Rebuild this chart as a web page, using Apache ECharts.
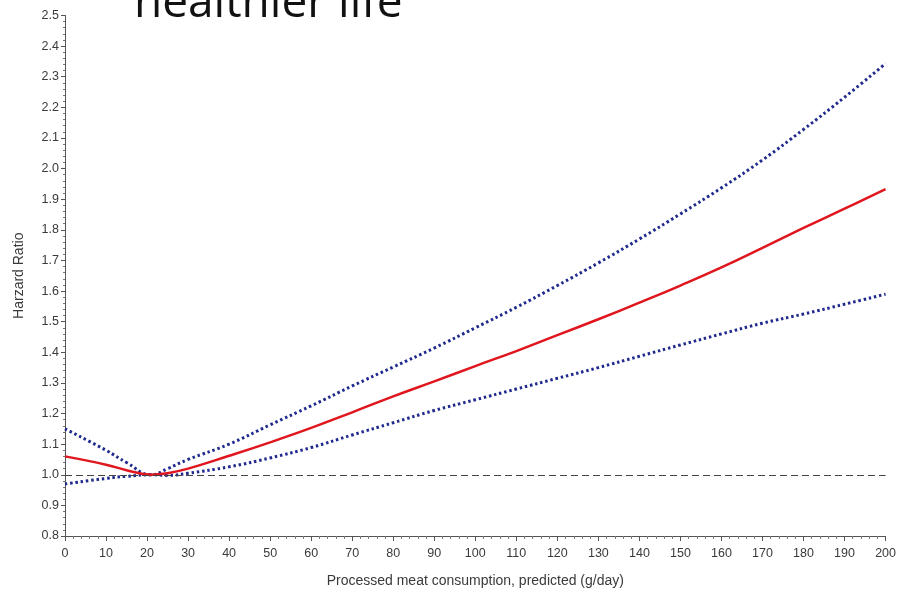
<!DOCTYPE html>
<html>
<head>
<meta charset="utf-8">
<script src="https://cdn.jsdelivr.net/npm/echarts@6/dist/echarts.min.js"></script>
<style>
html,body{margin:0;padding:0;background:#fff;}
#chart{width:899px;height:593px;}
</style>
</head>
<body>
<div id="chart"></div>
<script>
// ---- data ----
var titleText = 'healthier life';
var xAxisName = 'Processed meat consumption, predicted (g/day)';
var yAxisName = 'Harzard Ratio';
var doseValues = [0, 10, 15, 21, 25, 30, 40, 50, 60, 70, 80, 90, 100, 110, 120, 130, 140, 150, 160, 170, 180, 190, 200];
var hazardRatio = [1.06, 1.033, 1.015, 1.0, 1.005, 1.02, 1.062, 1.106, 1.153, 1.204, 1.256, 1.305, 1.355, 1.404, 1.456, 1.508, 1.562, 1.618, 1.677, 1.741, 1.806, 1.869, 1.933];
var upperCI = [1.15, 1.08, 1.04, 1.0, 1.02, 1.05, 1.10, 1.163, 1.225, 1.29, 1.352, 1.414, 1.48, 1.547, 1.618, 1.692, 1.77, 1.852, 1.937, 2.028, 2.128, 2.233, 2.343];
var lowerCI = [0.97, 0.988, 0.995, 1.0, 0.998, 1.005, 1.026, 1.055, 1.089, 1.13, 1.17, 1.21, 1.245, 1.28, 1.315, 1.35, 1.387, 1.424, 1.46, 1.495, 1.525, 1.557, 1.59];
var referenceLevel = 1.0;
var xTicks = {min: 0, max: 200, step: 10};
var yTicks = {min: 0.8, max: 2.5, step: 0.1};

function pairs(xs, ys) {
  return xs.map(function (x, i) { return [x, ys[i]]; });
}

var tickFont = {fontFamily: 'Liberation Sans, Arial, sans-serif', fontSize: 12.5, color: '#3a3a3a'};
var nameFont = {fontFamily: 'Liberation Sans, Arial, sans-serif', fontSize: 14, color: '#3a3a3a'};
var chart = echarts.init(document.getElementById('chart'), null, {renderer: 'canvas'});
var dotStyle = {color: '#1f2a8c', width: 3, type: [2.5, 2.8], cap: 'butt'};
var option = {
  backgroundColor: '#ffffff',
  animation: false,
  graphic: [{
    type: 'text',
    left: 134,
    top: -19,
    style: {
      text: titleText,
      fontFamily: 'Open Sans, sans-serif',
      fontSize: 46,
      fill: '#111111'
    }
  }],
  grid: {left: 65, right: 9, top: 15.5, bottom: 57, containLabel: false},
  xAxis: {
    type: 'value',
    min: xTicks.min, max: xTicks.max, interval: xTicks.step,
    name: xAxisName,
    nameLocation: 'middle',
    nameGap: 38,
    nameTextStyle: nameFont,
    axisLine: {show: true, lineStyle: {color: '#555', width: 1}},
    axisTick: {show: true, length: 5, lineStyle: {color: '#555'}},
    minorTick: {show: true, splitNumber: 5, length: 3, lineStyle: {color: '#777'}},
    axisLabel: Object.assign({margin: 11}, tickFont),
    splitLine: {show: false}
  },
  yAxis: {
    type: 'value',
    min: yTicks.min, max: yTicks.max, interval: yTicks.step,
    name: yAxisName,
    nameLocation: 'middle',
    nameGap: 39,
    nameTextStyle: nameFont,
    axisLine: {show: true, lineStyle: {color: '#555', width: 1}},
    axisTick: {show: true, length: 4, lineStyle: {color: '#555'}},
    minorTick: {show: true, splitNumber: 5, length: 2, lineStyle: {color: '#777'}},
    axisLabel: Object.assign({margin: 6, formatter: function (v) { return v.toFixed(1); }}, tickFont),
    splitLine: {show: false}
  },
  series: [
    {
      name: 'Upper',
      type: 'line',
      data: pairs(doseValues, upperCI),
      smooth: 0.45,
      symbol: 'none',
      lineStyle: dotStyle,
      z: 3
    },
    {
      name: 'Lower',
      type: 'line',
      data: pairs(doseValues, lowerCI),
      smooth: 0.45,
      symbol: 'none',
      lineStyle: dotStyle,
      z: 3
    },
    {
      name: 'HR',
      type: 'line',
      data: pairs(doseValues, hazardRatio),
      smooth: 0.45,
      symbol: 'none',
      lineStyle: {color: '#e0161e', width: 2.5},
      z: 4,
      markLine: {
        silent: true,
        symbol: ['none', 'none'],
        label: {show: false},
        lineStyle: {color: '#444', width: 1, type: [7, 4]},
        data: [{yAxis: referenceLevel}]
      }
    }
  ]
};
chart.setOption(option);
</script>
</body>
</html>
